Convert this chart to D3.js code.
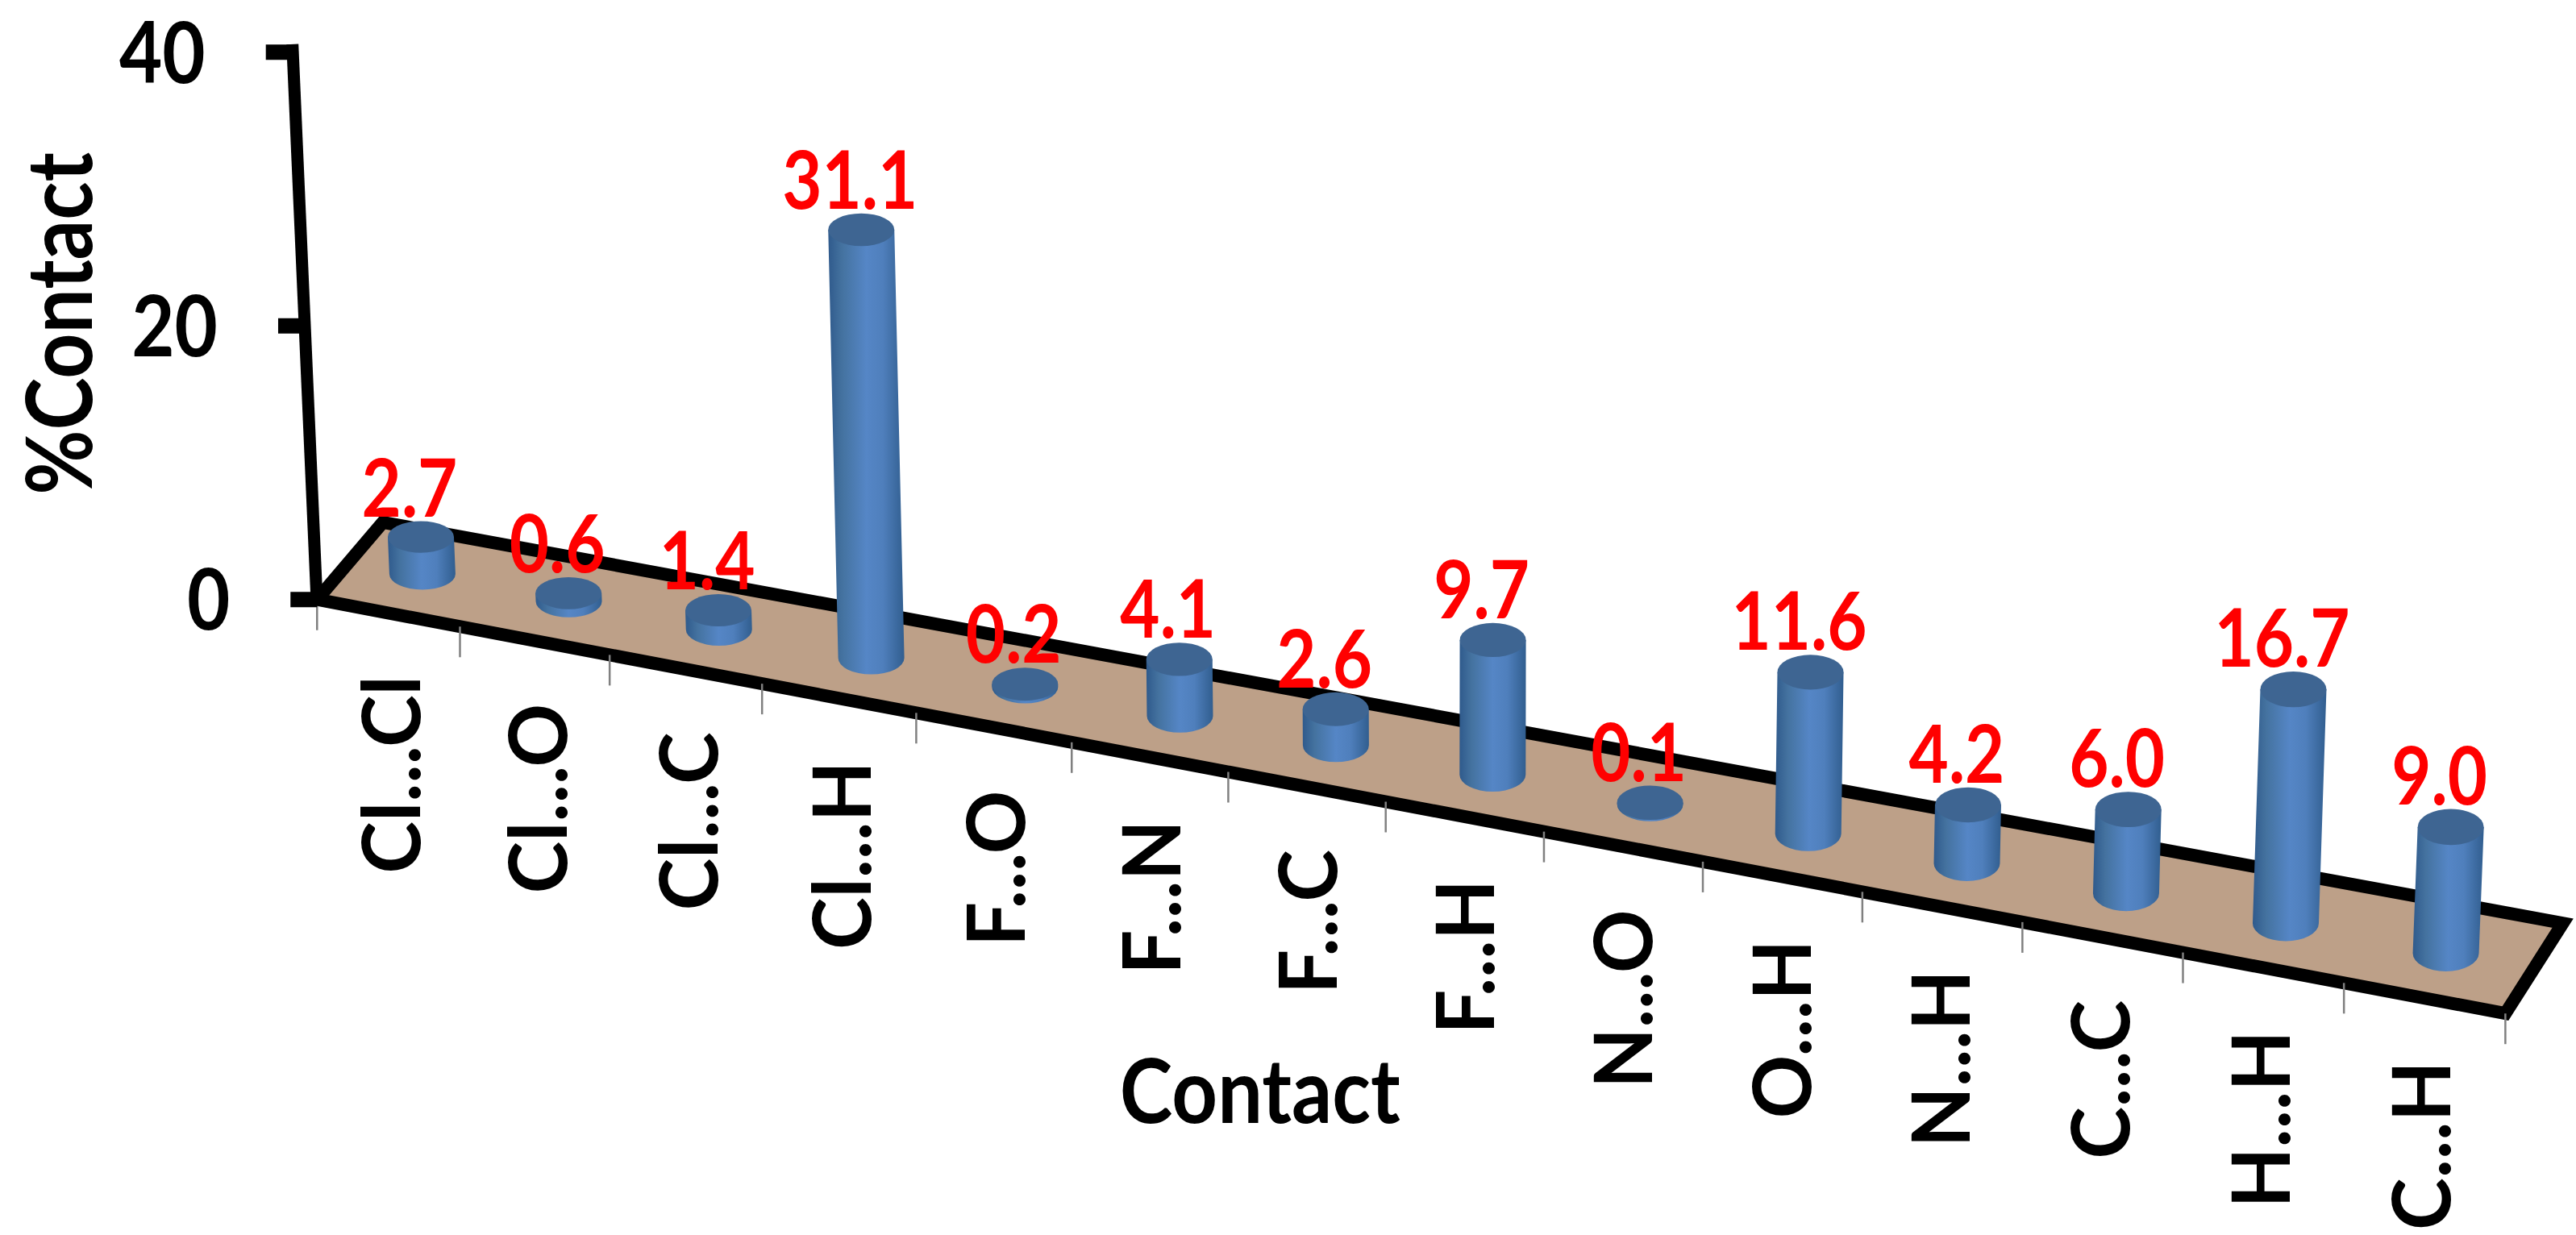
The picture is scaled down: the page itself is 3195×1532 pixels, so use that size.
<!DOCTYPE html>
<html><head><meta charset="utf-8">
<script src="https://cdn.jsdelivr.net/npm/d3@7"></script>
<style>html,body{margin:0;padding:0;background:#fff;overflow:hidden}svg{display:block}text{font-family:Lato,"Open Sans",sans-serif;font-weight:700}</style>
</head><body><svg id="c" width="3195" height="1532"></svg>
<script>
const categories=["Cl...Cl","Cl...O","Cl...C","Cl...H","F...O","F...N","F...C","F...H","N...O","O...H","N...H","C...C","H...H","C...H"];
const values=[2.7,0.6,1.4,31.1,0.2,4.1,2.6,9.7,0.1,11.6,4.2,6.0,16.7,9.0];
const valueLabels=["2.7","0.6","1.4","31.1","0.2","4.1","2.6","9.7","0.1","11.6","4.2","6.0","16.7","9.0"];
const yTicks=[0,20,40];
const k=3195/1568;
const svg=d3.select("#c");
const U=[0,categories.length];
const P=1.034;
const frontX=d3.scalePow().exponent(P).domain(U).range([193*k,1525*k]);
const frontY=d3.scalePow().exponent(P).domain(U).range([365*k,617*k]);
const backX=d3.scalePow().exponent(P).domain(U).range([233*k,1560*k]);
const backY=d3.scalePow().exponent(P).domain(U).range([318*k,562*k]);
const unit=d3.scaleLinear().domain(U).range([8.33*k,8.55*k]);
const lean=d3.scaleLinear().domain(U).range([-0.045,0.042]);
const ryS=d3.scaleLinear().domain(U).range([19.5,22.5]);
const barShift=d3.scaleLinear().domain(U).range([4,-10]);
const labelShift=d3.scaleLinear().domain(U).range([12,2]);
const rx=41;
function proj(u,v,h){
  const bx=frontX(u)+(backX(u)-frontX(u))*v, by=frontY(u)+(backY(u)-frontY(u))*v;
  const H=h*unit(u);
  return [bx+lean(u)*H, by-H];
}
const defs=svg.append("defs");
const g=defs.append("linearGradient").attr("id","cyl");
[[0,"#2f5a8c"],[0.18,"#44729f"],[0.5,"#5586c6"],[0.72,"#4f7fbc"],[1,"#315e8f"]].forEach(s=>g.append("stop").attr("offset",s[0]).attr("stop-color",s[1]));

// floor
svg.append("polygon").attr("points",[proj(0,0,0),proj(14,0,0),proj(14,1,0),proj(0,1,0)].map(p=>p.join(",")).join(" "))
  .attr("fill","#bda088").attr("stroke","#000").attr("stroke-width",16).attr("stroke-linejoin","miter").attr("stroke-miterlimit",3);
// category ticks
d3.range(15).forEach(i=>{const p=proj(i,0,0);
  svg.append("line").attr("x1",p[0]).attr("x2",p[0]).attr("y1",p[1]).attr("y2",p[1]+38).attr("stroke","#808080").attr("stroke-width",2.5);});
// y axis
const a0=proj(0,0,0),a1=proj(0,0,40);
svg.append("line").attr("x1",a0[0]).attr("y1",a0[1]+8).attr("x2",a1[0]).attr("y2",a1[1]-10).attr("stroke","#000").attr("stroke-width",15);
yTicks.forEach(t=>{const p=proj(0,0,t);
  svg.append("line").attr("x1",p[0]-33).attr("x2",p[0]).attr("y1",p[1]).attr("y2",p[1]).attr("stroke","#000").attr("stroke-width",19);
  svg.append("text").attr("transform",`translate(${p[0]-108},${p[1]}) scale(1,1.14)`).attr("dy","0.36em").attr("text-anchor","end").attr("font-size",92).attr("fill","#000").text(t);
});
// cylinders
values.forEach((d,i)=>{
  const u=i+0.5,s=barShift(u),b=proj(u,0.5,0),t=proj(u,0.5,d),ry=ryS(u);
  b[0]+=s;t[0]+=s;
  svg.append("path").attr("d",`M${b[0]-rx},${b[1]} L${t[0]-rx},${t[1]} L${t[0]+rx},${t[1]} L${b[0]+rx},${b[1]} A${rx},${ry} 0 0 1 ${b[0]-rx},${b[1]} Z`).attr("fill","url(#cyl)");
  svg.append("ellipse").attr("cx",t[0]).attr("cy",t[1]).attr("rx",rx).attr("ry",ry).attr("fill","#3e6592");
});
// value labels
values.forEach((d,i)=>{
  const u=i+0.5,t=proj(u,0.5,d);
  svg.append("text").attr("transform",`translate(${t[0]+barShift(u)-14},${t[1]-ryS(u)-42}) scale(1,1.18)`).attr("dy","0.36em").attr("text-anchor","middle").attr("font-size",85).attr("fill","#ff0000").text(valueLabels[i]);
});
// category labels
categories.forEach((c,i)=>{
  const p=proj(i+0.5,0,0);
  svg.append("text").attr("transform",`translate(${p[0]-6+labelShift(i+0.5)},${p[1]+78}) rotate(-90) scale(1.04,1.05)`).attr("dy","0.36em").attr("text-anchor","end").attr("font-size",94).attr("fill","#000").text(c);
});
svg.append("text").attr("transform",`translate(${36*k},${197*k}) rotate(-90) scale(1,1.15)`).attr("dy","0.36em").attr("text-anchor","middle").attr("font-size",98).attr("fill","#000").text("%Contact");
svg.append("text").attr("transform",`translate(${767*k},${664*k}) scale(1,1.12)`).attr("dy","0.36em").attr("text-anchor","middle").attr("font-size",99).attr("fill","#000").text("Contact");
</script></body></html>
